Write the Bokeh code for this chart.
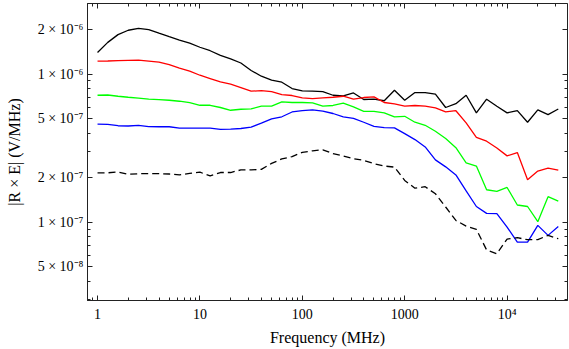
from bokeh.plotting import figure
from bokeh.models import (LogAxis, FixedTicker, CustomJSTickFormatter, Range1d)
from bokeh.embed import file_html
from bokeh.resources import INLINE

freq = [1, 1.259, 1.585, 1.995, 2.512, 3.162, 3.981, 5.012, 6.310, 7.943,
        10, 12.59, 15.85, 19.95, 25.12, 31.62, 39.81, 50.12, 63.10, 79.43,
        100, 125.9, 158.5, 199.5, 251.2, 316.2, 398.1, 501.2, 631.0, 794.3,
        1000, 1259, 1585, 1995, 2512, 3162, 3981, 5012, 6310, 7943,
        10000, 12589, 15849, 19953, 25119, 31623]

black_solid = [1.40e-6, 1.64e-6, 1.85e-6, 1.98e-6, 2.04e-6, 2.00e-6, 1.89e-6, 1.79e-6, 1.70e-6, 1.62e-6,
               1.52e-6, 1.44e-6, 1.34e-6, 1.27e-6, 1.19e-6, 1.06e-6, 9.69e-7, 9.11e-7, 8.83e-7, 8.00e-7,
               7.71e-7, 7.68e-7, 7.62e-7, 7.21e-7, 7.13e-7, 7.47e-7, 6.75e-7, 6.78e-7, 6.62e-7, 7.80e-7,
               6.67e-7, 7.52e-7, 7.50e-7, 7.33e-7, 5.96e-7, 6.32e-7, 7.21e-7, 5.48e-7, 6.78e-7, 6.08e-7,
               5.48e-7, 5.68e-7, 4.74e-7, 5.75e-7, 5.34e-7, 5.82e-7]

red = [1.224e-6, 1.228e-6, 1.234e-6, 1.240e-6, 1.243e-6, 1.224e-6, 1.205e-6, 1.159e-6, 1.098e-6, 1.048e-6,
       9.84e-7, 9.35e-7, 8.87e-7, 8.56e-7, 8.13e-7, 7.68e-7, 7.74e-7, 7.62e-7, 7.27e-7, 7.18e-7,
       6.92e-7, 6.85e-7, 6.92e-7, 6.99e-7, 7.10e-7, 6.78e-7, 6.96e-7, 7.03e-7, 6.44e-7, 6.30e-7,
       6.08e-7, 6.15e-7, 6.08e-7, 5.92e-7, 5.56e-7, 5.67e-7, 4.69e-7, 3.75e-7, 3.53e-7, 3.18e-7,
       2.81e-7, 2.96e-7, 1.94e-7, 2.22e-7, 2.32e-7, 2.25e-7]

green = [7.21e-7, 7.24e-7, 7.10e-7, 6.99e-7, 6.90e-7, 6.78e-7, 6.73e-7, 6.67e-7, 6.57e-7, 6.42e-7,
         6.17e-7, 6.17e-7, 5.96e-7, 5.71e-7, 5.80e-7, 5.83e-7, 6.08e-7, 6.08e-7, 6.50e-7, 6.44e-7,
         6.44e-7, 6.40e-7, 6.08e-7, 6.15e-7, 6.37e-7, 6.01e-7, 5.62e-7, 5.62e-7, 5.48e-7, 5.15e-7,
         5.20e-7, 4.74e-7, 4.52e-7, 4.12e-7, 3.68e-7, 3.19e-7, 2.52e-7, 2.40e-7, 1.66e-7, 1.62e-7,
         1.72e-7, 1.31e-7, 1.28e-7, 1.01e-7, 1.49e-7, 1.39e-7]

blue = [4.61e-7, 4.59e-7, 4.49e-7, 4.47e-7, 4.52e-7, 4.43e-7, 4.42e-7, 4.42e-7, 4.32e-7, 4.32e-7,
        4.32e-7, 4.33e-7, 4.24e-7, 4.26e-7, 4.30e-7, 4.40e-7, 4.67e-7, 4.99e-7, 5.16e-7, 5.56e-7,
        5.67e-7, 5.74e-7, 5.64e-7, 5.43e-7, 5.15e-7, 5.04e-7, 4.74e-7, 4.45e-7, 4.36e-7, 4.34e-7,
        3.97e-7, 3.62e-7, 3.23e-7, 2.64e-7, 2.37e-7, 2.09e-7, 1.63e-7, 1.28e-7, 1.15e-7, 1.145e-7,
        9.29e-8, 7.35e-8, 7.35e-8, 9.54e-8, 8.17e-8, 9.37e-8]

black_dashed = [2.16e-7, 2.16e-7, 2.19e-7, 2.11e-7, 2.13e-7, 2.13e-7, 2.13e-7, 2.12e-7, 2.09e-7, 2.14e-7,
                2.18e-7, 2.06e-7, 2.17e-7, 2.17e-7, 2.26e-7, 2.26e-7, 2.28e-7, 2.50e-7, 2.68e-7, 2.78e-7,
                2.97e-7, 3.04e-7, 3.09e-7, 2.91e-7, 2.81e-7, 2.69e-7, 2.62e-7, 2.49e-7, 2.40e-7, 2.36e-7,
                1.92e-7, 1.70e-7, 1.74e-7, 1.56e-7, 1.27e-7, 1.03e-7, 9.43e-8, 8.97e-8, 6.51e-8, 6.14e-8,
                7.72e-8, 7.88e-8, 7.64e-8, 7.65e-8, 8.17e-8, 7.76e-8]

x_major = [1, 10, 100, 1000, 10000]
x_labels = ["1", "10", "100", "1000", "10\u2074"]
x_minor = [m * 10 ** e for e in range(-1, 5) for m in range(1, 10)]

y_major = [5e-8, 1e-7, 2e-7, 5e-7, 1e-6, 2e-6]
y_labels = ["5 \u00d7 10\u207b\u2078", "1 \u00d7 10\u207b\u2077", "2 \u00d7 10\u207b\u2077",
            "5 \u00d7 10\u207b\u2077", "1 \u00d7 10\u207b\u2076", "2 \u00d7 10\u207b\u2076"]
y_minor = [m * 10 ** e for e in range(-8, -5) for m in range(1, 10)]

FONT = "Liberation Serif"
X_LO, X_HI = 0.798, 38900
Y_LO, Y_HI = 2.97e-8, 3.0e-6

p = figure(width=569, height=349, x_axis_type="log", y_axis_type="log",
           x_range=Range1d(X_LO, X_HI), y_range=Range1d(Y_LO, Y_HI),
           output_backend="svg", toolbar_location=None,
           min_border_left=87, min_border_right=2, min_border_top=3, min_border_bottom=49)
p.grid.visible = False
p.background_fill_color = "white"
p.border_fill_color = "white"
p.outline_line_color = "#222222"

lab_code = """
let best = 0, bd = 1e9;
for (let i = 0; i < vals.length; i++) {
  const d = Math.abs(Math.log10(tick) - Math.log10(vals[i]));
  if (d < bd) { bd = d; best = i; }
}
return labs[best];
"""

xt = FixedTicker(ticks=x_major, minor_ticks=x_minor)
yt = FixedTicker(ticks=y_major, minor_ticks=y_minor)

xa = p.xaxis[0]
xa.ticker = xt
xa.formatter = CustomJSTickFormatter(args=dict(vals=x_major, labs=x_labels), code=lab_code)
xa.axis_label = "Frequency (MHz)"

ya = p.yaxis[0]
ya.ticker = yt
ya.formatter = CustomJSTickFormatter(args=dict(vals=y_major, labs=y_labels), code=lab_code)
ya.axis_label = "|R \u00d7 E| (V/MHz)"

blank = CustomJSTickFormatter(code="return '';")
top = LogAxis(ticker=FixedTicker(ticks=x_major, minor_ticks=x_minor), formatter=blank,
              fixed_location=Y_HI)
right = LogAxis(ticker=FixedTicker(ticks=y_major, minor_ticks=y_minor), formatter=blank,
                fixed_location=X_HI)
p.add_layout(top, "above")
p.add_layout(right, "right")

for ax in [xa, ya, top, right]:
    ax.major_tick_in = 5
    ax.major_tick_out = 0
    ax.minor_tick_in = 3
    ax.minor_tick_out = 0
    ax.axis_line_color = "#222222"
    ax.major_tick_line_color = "#222222"
    ax.minor_tick_line_color = "#222222"
    ax.major_label_text_font = FONT
    ax.major_label_text_font_size = "14px"
    ax.major_label_text_color = "black"
    ax.axis_label_text_font = FONT
    ax.axis_label_text_font_size = "16px"
    ax.axis_label_text_font_style = "normal"
    ax.axis_label_text_color = "black"
for ax in [top, right]:
    ax.major_label_text_font_size = "0px"
    ax.major_label_standoff = 0
    ax.axis_label_standoff = 0

xa.major_label_standoff = 6
xa.axis_label_standoff = 4
ya.major_label_standoff = 4
ya.axis_label_standoff = 12

p.line(freq, black_solid, line_color="black", line_width=1.3)
p.line(freq, red, line_color="#ff0000", line_width=1.3)
p.line(freq, green, line_color="#00ff00", line_width=1.3)
p.line(freq, blue, line_color="#0000ff", line_width=1.3)
p.line(freq, black_dashed, line_color="black", line_width=1.3, line_dash="7 4")

open("out.html", "w").write(file_html(p, INLINE))
